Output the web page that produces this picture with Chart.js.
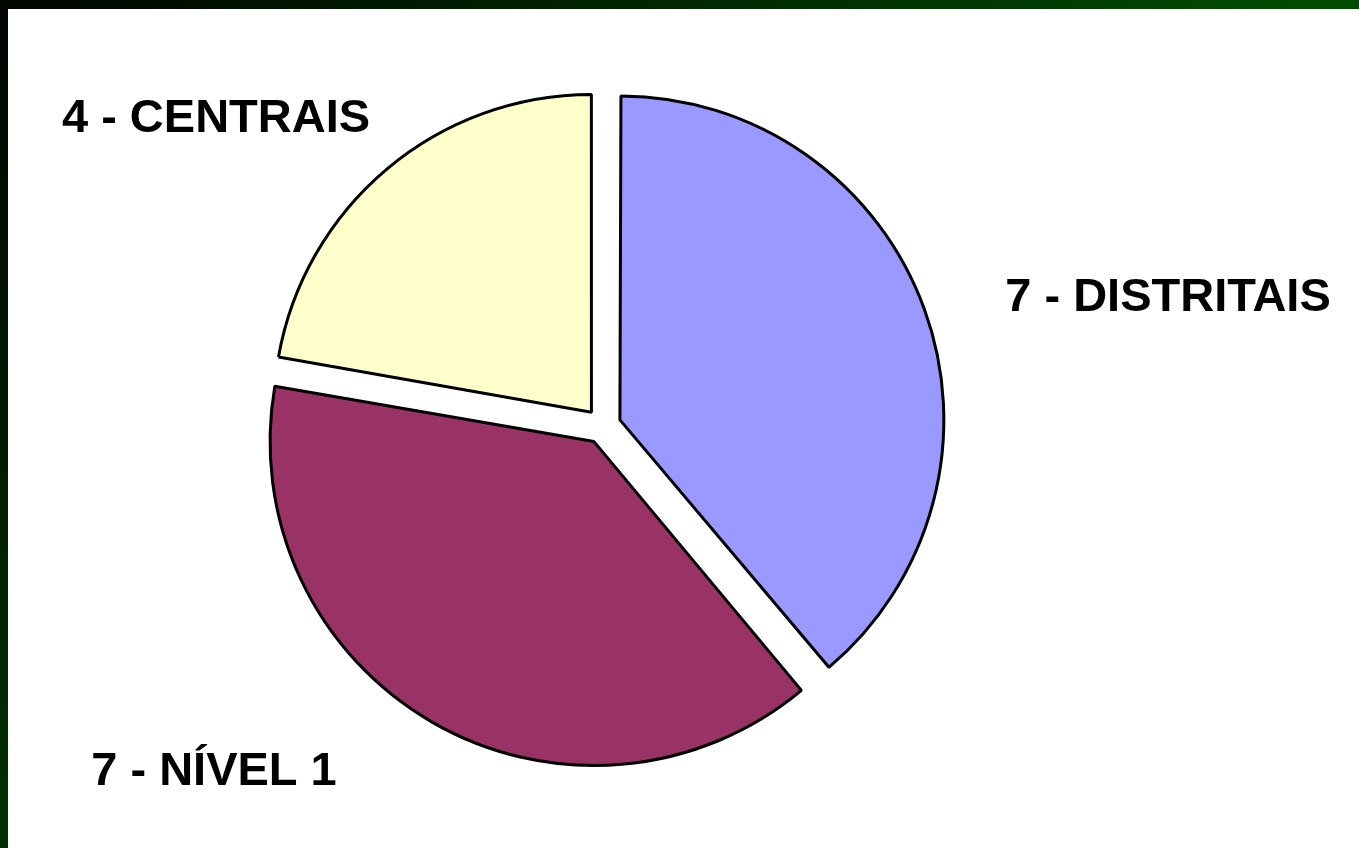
<!DOCTYPE html>
<html>
<head>
<meta charset="utf-8">
<script src="https://cdn.jsdelivr.net/npm/chart.js@4"></script>
<style>
  html, body { margin: 0; padding: 0; }
  body {
    width: 1359px;
    height: 848px;
    overflow: hidden;
    background: radial-gradient(circle at 0 0, #000500 0%, #002a00 45%, #004a00 80%, #005200 100%);
  }
  #panel {
    position: absolute;
    left: 8px;
    top: 9px;
    width: 1351px;
    height: 839px;
    background: #ffffff;
  }
</style>
</head>
<body>
<div id="panel"><canvas id="pieChart" width="1351" height="839"></canvas></div>
<script>
const categories = ["DISTRITAIS", "NÍVEL 1", "CENTRAIS"];
const counts = [7, 7, 4];
const sliceColors = ["#9999ff", "#993366", "#ffffcc"];

// label centres inside the white panel
const labelPos = [
  { x: 1160, y: 289 },
  { x: 206, y: 763 },
  { x: 208, y: 110 },
];

const labelPlugin = {
  id: "sliceLabels",
  afterDraw(chart) {
    const ctx = chart.ctx;
    ctx.save();
    ctx.font = "bold 47px 'Liberation Sans', Arial, sans-serif";
    ctx.fillStyle = "#000000";
    ctx.textAlign = "center";
    ctx.textBaseline = "middle";
    categories.forEach((name, i) => {
      ctx.fillText(`${counts[i]} - ${name}`, labelPos[i].x, labelPos[i].y);
    });
    ctx.restore();
  },
};

const ctx = document.getElementById("pieChart").getContext("2d");

new Chart(ctx, {
  type: "pie",
  data: {
    labels: categories,
    datasets: [
      {
        data: counts,
        backgroundColor: sliceColors,
        borderColor: "#000000",
        borderWidth: 3,
        offset: 72,
        hoverOffset: 72,
      },
    ],
  },
  options: {
    responsive: false,
    animation: false,
    rotation: 0,
    layout: {
      padding: { left: 240, right: 401, top: 62, bottom: 67 },
    },
    plugins: {
      legend: { display: false },
      tooltip: { enabled: false },
    },
  },
  plugins: [labelPlugin],
});
</script>
</body>
</html>
